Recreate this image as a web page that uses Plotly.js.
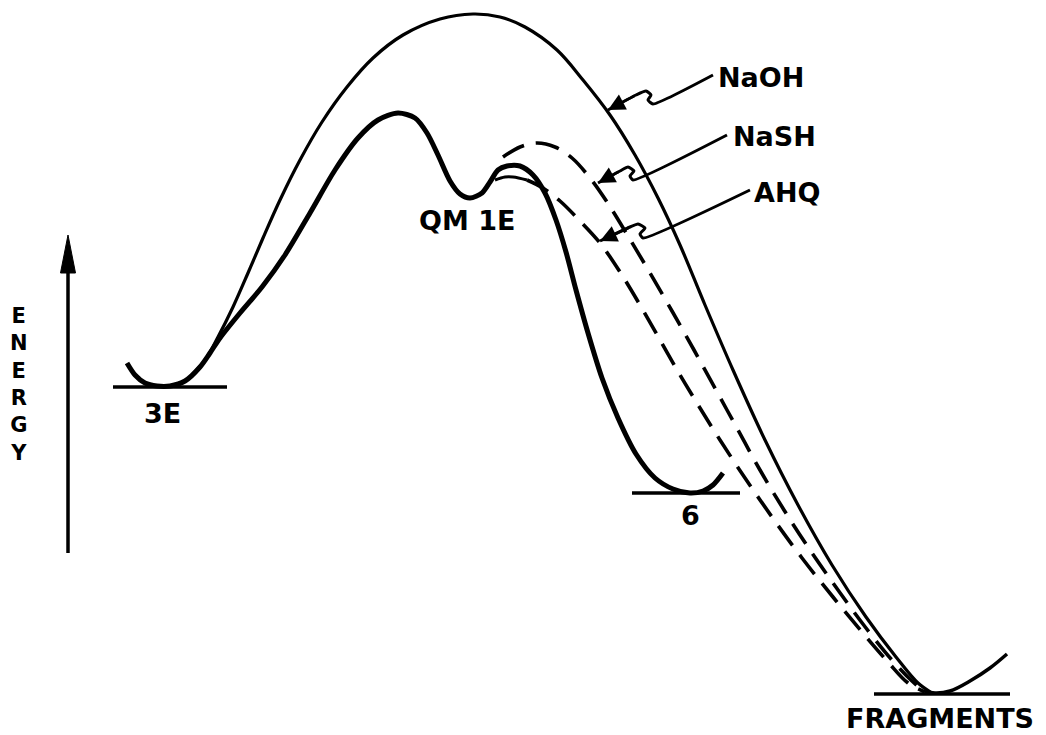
<!DOCTYPE html>
<html>
<head>
<meta charset="utf-8">
<script src="https://cdn.plot.ly/plotly-3.0.1.min.js"></script>
<style>html,body{margin:0;padding:0;background:#fff;}#chart{width:1046px;height:735px;}</style>
</head>
<body>
<div id="chart"></div>
<script>
// Energy profile curves (diagram coordinates: x to the right, y = depth from top)
const thickX = [127,135,145,157,170,185,200,210,220,240,262,285,310,335,358,378,398,415,427,438,450,460,470,482,490,498,507,520,533,545,556,566,576,588,602,618,636,655,673,690,703,713,723];
const thickY = [363,375,383,386,386,381,367,353,338,313,287,255,213,170,138,120,113,118,133,155,181,194,198,193,182,170,166,166,175,193,220,252,290,333,378,418,454,478,489,493,491,485,473];

const naohX = [190,205,218,233,248,263,280,300,322,347,373,403,440,473,500,525,557,583,610,635,658,680,705,733,765,798,832,866,896,918,932];
const naohY = [377,360,337,307,273,238,200,160,122,87,58,35,19,14,17,27,50,80,115,155,198,245,305,370,440,505,565,617,657,683,693];

const nashX = [503,520,537,555,572,590,607,628,650,672,694,716,738,760,784,810,838,866,892,912,925];
const nashY = [157,147,143,147,158,178,202,236,273,311,350,390,430,470,510,550,590,628,660,681,692];

const ahqStartX = [495,505,513,527];
const ahqStartY = [180,177,177,180];
const ahqX = [527,543,560,580,600,620,640,660,680,700,720,745,772,802,833,862,888,908,925];
const ahqY = [180,188,201,221,243,272,305,340,375,408,440,478,517,558,597,632,662,683,692];

const fragWellX = [925,935,950,970,990,1007];
const fragWellY = [691,693,691,681,668,654];

// Energy levels
const levelNames = ["3E","6","FRAGMENTS"];
const levelX0 = [113,632,874];
const levelX1 = [227,740,1010];
const levelY  = [387,493,694];

// Labels
const labelText = ["3E","QM 1E","6","FRAGMENTS","NaOH","NaSH","AHQ"];
const labelX    = [162,467,690,940,716,731,752];
const labelY    = [413,220,515,718,77,136,192];
const labelAnchor = ["center","center","center","center","left","left","left"];

// Pointer arrows (label -> curve) with squiggle
const arrowNames = ["NaOH","NaSH","AHQ"];
const arrowX = [
  [713,653,648,651,646,636,608],
  [727,633,630,634,628,620,598],
  [750,643,640,645,638,630,600]
];
const arrowY = [
  [75,104,100,95,91,95,110],
  [135,180,176,171,167,171,183],
  [190,238,234,228,224,227,241]
];

// Energy axis arrow
const energyArrowX = 68;
const energyArrowTop = 235;
const energyArrowBottom = 553;
const energyLetters = ["E","N","E","R","G","Y"];

const traces = [];
const blk = '#000';

traces.push({x: naohX, y: naohY, mode:'lines', line:{color:blk, width:3.2, shape:'spline', smoothing:1}, hoverinfo:'skip'});
traces.push({x: thickX, y: thickY, mode:'lines', line:{color:blk, width:5, shape:'spline', smoothing:0.8}, hoverinfo:'skip'});
traces.push({x: nashX, y: nashY, mode:'lines', line:{color:blk, width:3.6, shape:'spline', smoothing:1, dash:'24px,12px'}, hoverinfo:'skip'});
traces.push({x: ahqStartX, y: ahqStartY, mode:'lines', line:{color:blk, width:3, shape:'spline'}, hoverinfo:'skip'});
traces.push({x: ahqX, y: ahqY, mode:'lines', line:{color:blk, width:3.6, shape:'spline', smoothing:1, dash:'24px,12px'}, hoverinfo:'skip'});
traces.push({x: fragWellX, y: fragWellY, mode:'lines', line:{color:blk, width:3.5, shape:'spline', smoothing:1}, hoverinfo:'skip'});

for (let i = 0; i < levelNames.length; i++) {
  traces.push({x:[levelX0[i], levelX1[i]], y:[levelY[i], levelY[i]], mode:'lines', line:{color:blk, width:3.5}, hoverinfo:'skip'});
}

for (let i = 0; i < arrowNames.length; i++) {
  traces.push({x: arrowX[i], y: arrowY[i], mode:'lines', line:{color:blk, width:3, shape:'spline', smoothing:0.5}, hoverinfo:'skip'});
}

// energy arrow shaft + head
traces.push({x:[energyArrowX, energyArrowX], y:[energyArrowBottom, energyArrowTop+30], mode:'lines', line:{color:blk, width:3.5}, hoverinfo:'skip'});
traces.push({x:[energyArrowX-7.5, energyArrowX, energyArrowX+7.5, energyArrowX-7.5], y:[energyArrowTop+38, energyArrowTop, energyArrowTop+38, energyArrowTop+38], mode:'lines', fill:'toself', fillcolor:blk, line:{color:blk, width:1}, hoverinfo:'skip'});

const annotations = [];
const fontFam = 'DejaVu Sans, Liberation Sans, Arial, sans-serif';
for (let i = 0; i < labelText.length; i++) {
  annotations.push({x: labelX[i], y: labelY[i], xref:'x', yref:'y', text:'<b>'+labelText[i]+'</b>', showarrow:false, xanchor: labelAnchor[i], yanchor:'middle', font:{family:fontFam, size:27, color:blk}});
}
annotations.push({x: 19, y: 384, xref:'x', yref:'y', text:'<b>'+energyLetters.join('<br>')+'</b>', showarrow:false, xanchor:'center', yanchor:'middle', align:'center', font:{family:fontFam, size:21, color:blk}});

// arrowheads for label pointers
for (let i = 0; i < arrowNames.length; i++) {
  const n = arrowX[i].length;
  annotations.push({x: arrowX[i][n-1], y: arrowY[i][n-1], ax: arrowX[i][n-2], ay: arrowY[i][n-2], xref:'x', yref:'y', axref:'x', ayref:'y', text:'', showarrow:true, arrowhead:2, arrowsize:1.3, arrowwidth:2.6, arrowcolor:blk, standoff:0});
}

const layout = {
  width:1046, height:735,
  margin:{l:0,r:0,t:0,b:0},
  paper_bgcolor:'#fff', plot_bgcolor:'#fff',
  showlegend:false,
  xaxis:{range:[0,1046], visible:false, fixedrange:true},
  yaxis:{range:[735,0], visible:false, fixedrange:true},
  annotations: annotations
};

Plotly.newPlot('chart', traces, layout, {staticPlot:true, displayModeBar:false});
</script>
</body>
</html>
